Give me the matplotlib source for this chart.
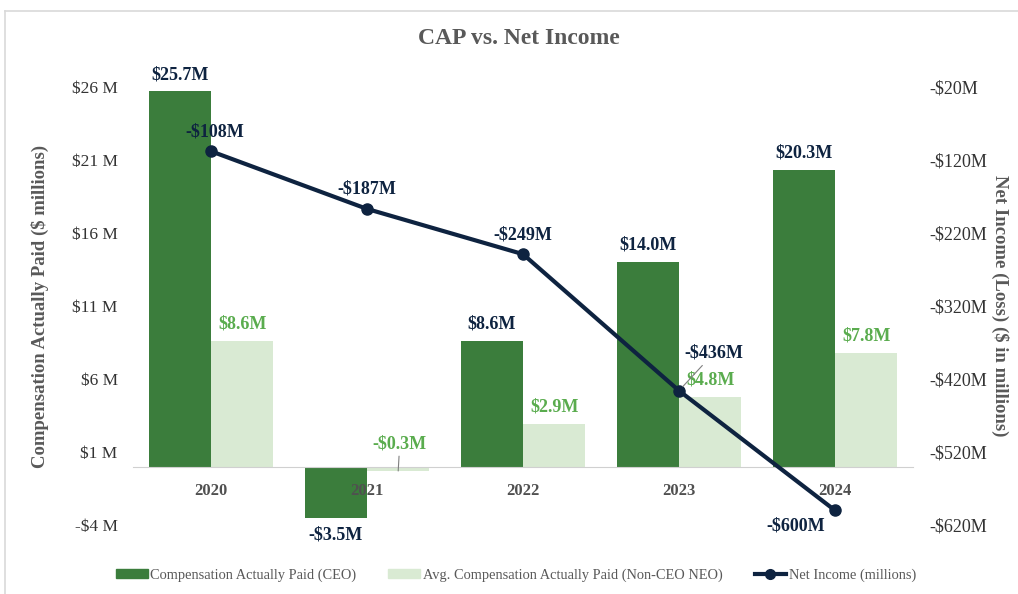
import matplotlib
matplotlib.use("Agg")
import matplotlib.pyplot as plt
from matplotlib.lines import Line2D
from matplotlib.patches import Patch
import numpy as np

years = ["2020", "2021", "2022", "2023", "2024"]
cap_ceo = [25.7, -3.5, 8.6, 14.0, 20.3]
cap_neo = [8.6, -0.3, 2.9, 4.8, 7.8]
net_income = [-108, -187, -249, -436, -600]
left_ticks = [-4, 1, 6, 11, 16, 21, 26]
right_ticks = [-20, -120, -220, -320, -420, -520, -620]

plt.rcParams['font.family'] = ['Liberation Serif', 'DejaVu Serif']

C_CEO = "#3b7d3c"
C_NEO = "#d9ead3"
C_LINE = "#0e2340"
C_NEOTXT = "#5aac4e"
C_GREY = "#595959"

fig = plt.figure(figsize=(10.18, 5.94), dpi=100)
ax = fig.add_axes([133/1018, 1-525/594, 780/1018, 438/594])
ax2 = ax.twinx()

x = np.arange(len(years))
w = 0.4
ax.bar(x - w/2, cap_ceo, w, color=C_CEO, zorder=2)
ax.bar(x + w/2, cap_neo, w, color=C_NEO, zorder=2)
ax.set_xlim(-0.5, len(years) - 0.5)
ax.set_ylim(-4, 26)
ax.set_yticks(left_ticks)
ax.set_yticklabels([("-$%d M" % -t) if t < 0 else ("$%d M" % t) for t in left_ticks],
                   fontsize=12.5, color="#333333")
ax.tick_params(axis='y', length=0, pad=11)
ax.spines['bottom'].set_position(('data', 0))
ax.spines['bottom'].set_color("#d0d0d0")
for s in ['top', 'left', 'right']:
    ax.spines[s].set_visible(False)
ax.set_xticks(x)
ax.set_xticklabels(years, fontsize=12, fontweight='bold', color="#505050")
ax.tick_params(axis='x', length=0, pad=12)
ax.xaxis.set_zorder(3)
ax.set_ylabel("Compensation Actually Paid ($ millions)", fontsize=13.5,
              fontweight='bold', color=C_GREY, va='center')
ax.yaxis.set_label_coords(-0.119, 0.5)

ax2.plot(x, net_income, color=C_LINE, lw=3, marker='o', ms=8, zorder=5)
ax2.set_ylim(-620, -20)
ax2.set_yticks(right_ticks)
ax2.set_yticklabels(["-$%dM" % -t for t in right_ticks], fontsize=13, color="#333333")
ax2.tick_params(axis='y', length=0, pad=12)
for s in ax2.spines.values():
    s.set_visible(False)
ax2.set_ylabel("Net Income (Loss) ($ in millions)", fontsize=13.5, fontweight='bold',
               color=C_GREY, rotation=-90, va='center')
ax2.yaxis.set_label_coords(1.1115, 0.5)

lab_kw = dict(fontsize=13, fontweight='bold', ha='center')
for i, v in enumerate(cap_ceo):
    if v >= 0:
        ax.annotate("$%.1fM" % v, (i - w/2, v), xytext=(0, 6), textcoords='offset points',
                    va='bottom', color=C_LINE, **lab_kw)
    else:
        ax.annotate("-$%.1fM" % -v, (i - w/2, v), xytext=(0, -6), textcoords='offset points',
                    va='top', color=C_LINE, **lab_kw)
for i, v in enumerate(cap_neo):
    txt = ("$%.1fM" % v) if v >= 0 else ("-$%.1fM" % -v)
    if v < 0:
        ax.annotate(txt, (i + w/2, v), xytext=(i + w/2 + 0.01, 1.0),
                    textcoords='data', va='bottom', color=C_NEOTXT,
                    arrowprops=dict(arrowstyle='-', color='#7f7f7f', lw=0.8,
                                    shrinkA=1, shrinkB=0), **lab_kw)
    else:
        ax.annotate(txt, (i + w/2, v), xytext=(0, 6), textcoords='offset points',
                    va='bottom', color=C_NEOTXT, **lab_kw)

ni_off = [(3, 8), (0, 8), (0, 8), (25, 27), (-28, -5)]
ni_va = ['bottom', 'bottom', 'bottom', 'center', 'top']
for i, v in enumerate(net_income):
    kw = {}
    if i == 3:
        kw['arrowprops'] = dict(arrowstyle='-', color='#7f7f7f', lw=0.8, shrinkA=1, shrinkB=4)
    ax2.annotate("-$%dM" % -v, (i, v), xytext=ni_off[i], textcoords='offset points',
                 va=ni_va[i], color=C_LINE, zorder=6, **lab_kw, **kw)

fig.text(0.51, 1 - 38/594, "CAP vs. Net Income", ha='center', va='center',
         fontsize=17, fontweight='bold', color=C_GREY)

handles = [Patch(color=C_CEO), Patch(color=C_NEO),
           Line2D([0], [0], color=C_LINE, lw=3, marker='o', ms=7)]
labels = ["Compensation Actually Paid (CEO)", "Avg. Compensation Actually Paid (Non-CEO NEO)",
          "Net Income (millions)"]
leg = fig.legend(handles, labels, loc='center', bbox_to_anchor=(0.507, 1 - 575/594), ncol=3,
                 frameon=False, fontsize=10.4, handlelength=2.2, handleheight=0.55,
                 handletextpad=0.2, columnspacing=2.2)
for t in leg.get_texts():
    t.set_color(C_GREY)

fig.add_artist(Line2D([5/1018, 1], [1 - 11/594, 1 - 11/594], transform=fig.transFigure,
                      color="#d9d9d9", lw=1.2))
fig.add_artist(Line2D([5/1018, 5/1018], [0, 1 - 11/594], transform=fig.transFigure,
                      color="#d9d9d9", lw=1.2))

fig.savefig("out.png", dpi=100)
